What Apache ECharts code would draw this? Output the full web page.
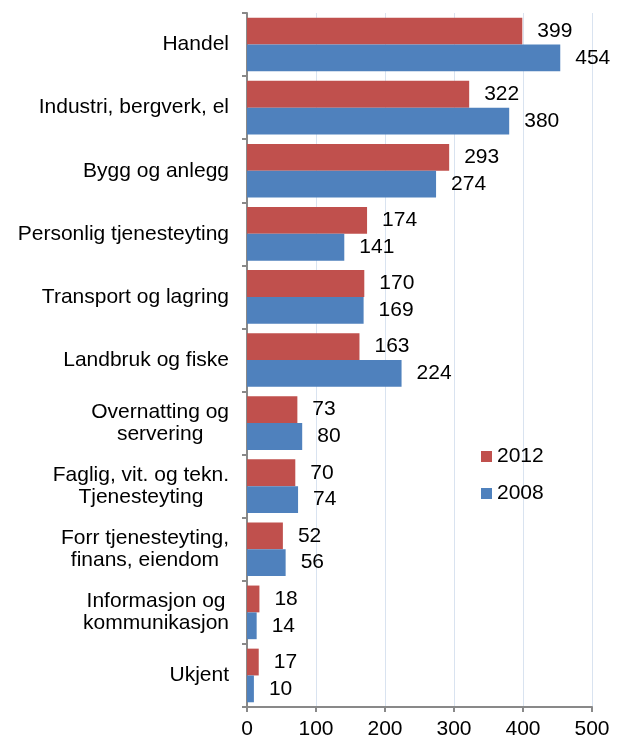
<!DOCTYPE html>
<html>
<head>
<meta charset="utf-8">
<script src="https://cdn.jsdelivr.net/npm/echarts@6/dist/echarts.min.js"></script>
<style>
  html, body { margin: 0; padding: 0; background: #fff; }
  #chart { width: 622px; height: 743px; }
</style>
</head>
<body>
<div id="chart"></div>
<script>
const categories = [
  'Handel',
  'Industri, bergverk, el',
  'Bygg og anlegg',
  'Personlig tjenesteyting',
  'Transport og lagring',
  'Landbruk og fiske',
  'Overnatting og\nservering',
  'Faglig, vit. og tekn.\nTjenesteyting',
  'Forr tjenesteyting,\nfinans, eiendom',
  'Informasjon og\nkommunikasjon',
  'Ukjent'
]
const values2012 = [399, 322, 293, 174, 170, 163, 73, 70, 52, 18, 17]
const values2008 = [454, 380, 274, 141, 169, 224, 80, 74, 56, 14, 10]
const xTicks = [0, 100, 200, 300, 400, 500]

const font = '"Liberation Sans", Arial, sans-serif'
const axisGrey = '#898989'
const fontSize = 21

const chart = echarts.init(document.getElementById('chart'), null, { renderer: 'canvas' })

// each line of a category label is centred inside the right-aligned block
const centredLabel = value => value.split('\n').map(l => '{c|' + l + '}').join('\n')

const barLabel = {
  show: true,
  position: 'right',
  distance: 15,
  color: '#000',
  fontSize: fontSize,
  fontFamily: font
}

chart.setOption({
  animation: false,
  textStyle: { fontFamily: font },
  grid: {
    left: 247,
    right: 30,
    top: 13,
    bottom: 36,
    containLabel: false
  },
  legend: {
    orient: 'vertical',
    left: 481,
    top: 446,
    padding: 0,
    itemWidth: 11,
    itemHeight: 11,
    itemGap: 16,
    icon: 'rect',
    data: ['2012', '2008'],
    textStyle: { fontSize: fontSize, color: '#000', fontFamily: font }
  },
  xAxis: {
    type: 'value',
    min: xTicks[0],
    max: xTicks[xTicks.length - 1],
    interval: 100,
    axisLine: { show: true, lineStyle: { color: axisGrey, width: 2 } },
    axisTick: { show: true, length: 5, lineStyle: { color: axisGrey, width: 2 } },
    axisLabel: { fontSize: fontSize, color: '#000', margin: 12, fontFamily: font },
    splitLine: { show: true, lineStyle: { color: '#D9E3F0', width: 1 } }
  },
  yAxis: {
    type: 'category',
    inverse: true,
    data: categories,
    axisLine: { show: true, lineStyle: { color: axisGrey, width: 2 } },
    axisTick: { show: true, length: 5, lineStyle: { color: axisGrey, width: 2 } },
    axisLabel: {
      margin: 18,
      color: '#000',
      fontSize: fontSize,
      fontFamily: font,
      lineHeight: 22,
      formatter: centredLabel,
      rich: {
        c: { align: 'center', fontSize: fontSize, fontFamily: font, color: '#000', lineHeight: 22 }
      }
    },
    splitLine: { show: false }
  },
  series: [
    {
      name: '2012',
      type: 'bar',
      data: values2012,
      barGap: '0%',
      barCategoryGap: '15%',
      itemStyle: { color: '#C0504D' },
      label: barLabel
    },
    {
      name: '2008',
      type: 'bar',
      data: values2008,
      barGap: '0%',
      barCategoryGap: '15%',
      itemStyle: { color: '#4F81BD' },
      label: barLabel
    }
  ]
})
</script>
</body>
</html>
